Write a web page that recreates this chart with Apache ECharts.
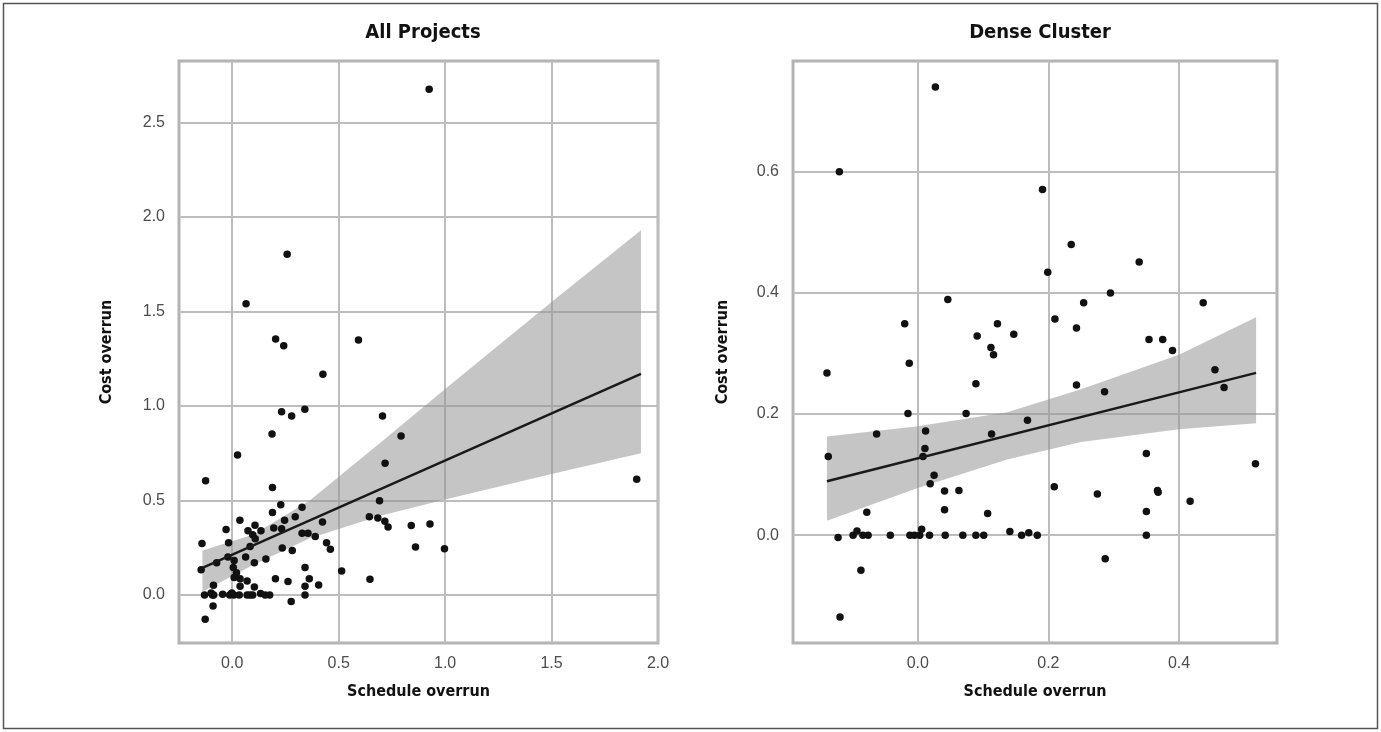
<!DOCTYPE html>
<html>
<head>
<meta charset="utf-8">
<title>Cost overrun vs schedule overrun</title>
<script src="https://cdn.jsdelivr.net/npm/echarts@6/dist/echarts.min.js"></script>
<style>
  html, body { margin: 0; padding: 0; background: #fff; }
  #chart { width: 1381px; height: 732px; }
</style>
</head>
<body>
<div id="chart"></div>
<script>
// ---- All Projects (schedule overrun, cost overrun) ----
var allProjects = [
  [0.925, 2.676], [0.258, 1.803], [0.065, 1.541], [0.204, 1.354], [0.242, 1.319],
  [0.593, 1.349], [0.426, 1.168], [1.90, 0.612],
  [0.232, 0.970], [0.279, 0.947], [0.341, 0.982], [0.706, 0.947], [0.793, 0.841],
  [0.187, 0.852], [0.025, 0.741], [0.718, 0.697], [-0.125, 0.605], [0.189, 0.568],
  [0.692, 0.499], [0.228, 0.478], [0.328, 0.464], [0.189, 0.436], [0.036, 0.395],
  [0.246, 0.395], [0.296, 0.414], [0.644, 0.414], [0.684, 0.407], [0.717, 0.390],
  [0.732, 0.360], [0.841, 0.367], [0.929, 0.376], [0.424, 0.386], [-0.029, 0.346],
  [0.107, 0.369], [0.074, 0.340], [0.135, 0.340], [0.195, 0.354], [0.232, 0.351],
  [0.096, 0.319], [0.108, 0.298], [0.328, 0.326], [0.356, 0.326], [0.390, 0.309],
  [0.443, 0.277], [0.461, 0.242], [-0.142, 0.273], [-0.017, 0.277], [0.084, 0.257],
  [0.235, 0.249], [0.282, 0.235], [0.861, 0.254], [0.997, 0.245], [-0.073, 0.171],
  [-0.020, 0.201], [0.009, 0.182], [0.063, 0.201], [0.104, 0.171], [0.158, 0.190],
  [-0.146, 0.134], [0.005, 0.146], [0.020, 0.118], [0.009, 0.093], [0.037, 0.086],
  [0.070, 0.074], [0.037, 0.046], [0.104, 0.042], [-0.088, 0.051], [0.203, 0.086],
  [0.262, 0.071], [0.342, 0.145], [0.362, 0.086], [0.342, 0.046], [0.406, 0.053],
  [0.514, 0.127], [0.647, 0.083],
  [-0.130, 0.000], [-0.099, 0.010], [-0.093, 0.000], [-0.087, 0.000], [-0.045, 0.004],
  [-0.012, 0.000], [-0.002, 0.010], [0.008, 0.000], [0.033, 0.000], [0.070, 0.000],
  [0.084, 0.000], [0.096, 0.000], [0.133, 0.008], [0.155, 0.000], [0.176, 0.000],
  [0.342, 0.000],
  [-0.090, -0.058], [-0.127, -0.129], [0.277, -0.034]
];
var allFitLine = [[-0.14, 0.144], [1.92, 1.17]];
var allBandX    = [-0.14, 0.10, 0.364, 0.70, 1.00, 1.50, 1.92];
var allBandLow  = [0.017, 0.16, 0.30, 0.42, 0.505, 0.64, 0.75];
var allBandHigh = [0.235, 0.32, 0.50, 0.81, 1.09, 1.55, 1.93];
var allXTicks = [0, 0.5, 1, 1.5, 2];
var allYTicks = [0, 0.5, 1, 1.5, 2, 2.5];

// ---- Dense Cluster ----
var denseProjects = [
  [0.027, 0.740], [-0.120, 0.600], [0.191, 0.571], [0.235, 0.480], [0.199, 0.434],
  [0.046, 0.389], [0.254, 0.384], [-0.020, 0.349], [0.122, 0.349], [0.210, 0.357],
  [0.243, 0.342], [0.091, 0.329], [0.147, 0.332], [0.112, 0.310], [0.116, 0.298],
  [-0.013, 0.284], [-0.139, 0.268], [0.089, 0.250], [0.243, 0.248], [-0.015, 0.201],
  [0.074, 0.201], [0.168, 0.190], [-0.063, 0.167], [0.012, 0.172], [0.113, 0.167],
  [0.011, 0.143], [-0.137, 0.130], [0.008, 0.130], [0.025, 0.099], [0.019, 0.085],
  [0.209, 0.080], [0.041, 0.073], [0.063, 0.074], [0.041, 0.042], [0.107, 0.036],
  [-0.078, 0.038],
  [-0.122, -0.004], [-0.099, 0.000], [-0.093, 0.007], [-0.084, 0.000], [-0.076, 0.000],
  [-0.042, 0.000], [-0.012, 0.000], [-0.005, 0.000], [0.003, 0.000], [0.006, 0.010],
  [0.018, 0.000], [0.042, 0.000], [0.069, 0.000], [0.089, 0.000], [0.101, 0.000],
  [0.141, 0.006], [0.159, 0.000], [0.170, 0.004], [0.183, 0.000],
  [-0.087, -0.058], [-0.119, -0.135],
  [0.339, 0.451], [0.295, 0.400], [0.437, 0.384], [0.354, 0.323], [0.375, 0.323],
  [0.390, 0.305], [0.455, 0.273], [0.469, 0.244], [0.286, 0.237], [0.350, 0.135],
  [0.517, 0.118], [0.275, 0.068], [0.367, 0.074], [0.368, 0.071], [0.417, 0.056],
  [0.350, 0.039], [0.350, 0.000], [0.287, -0.039]
];
var denseFitLine = [[-0.139, 0.089], [0.518, 0.268]];
var denseBandX    = [-0.139, 0.0, 0.137, 0.25, 0.40, 0.518];
var denseBandLow  = [0.024, 0.078, 0.125, 0.154, 0.175, 0.185];
var denseBandHigh = [0.163, 0.180, 0.203, 0.241, 0.298, 0.360];
var denseXTicks = [0, 0.2, 0.4];
var denseYTicks = [0, 0.2, 0.4, 0.6];

var LABEL_FONT = 'Liberation Sans, Arial, sans-serif';
var NARROW_FONT = "'DejaVu Sans Condensed', 'DejaVu Sans', sans-serif";
var GRID_GRAY = '#bdbdbd';

// condensed bold heading text (stretch keyword goes into the font shorthand)
function headStyle(size) {
  return { fontFamily: NARROW_FONT, fontStyle: 'condensed', fontWeight: 'bold', fontSize: size, color: '#111111' };
}

function tickFmt(ticks) {
  return function (v) {
    for (var i = 0; i < ticks.length; i++) {
      if (Math.abs(ticks[i] - v) < 1e-6) return v.toFixed(1);
    }
    return '';
  };
}

function makeAxis(kind, gridIndex, min, max, ticks, name, nameGap, split) {
  return {
    type: 'value',
    gridIndex: gridIndex,
    min: min,
    max: max,
    splitNumber: split,
    name: name,
    nameLocation: 'middle',
    nameGap: nameGap,
    nameTextStyle: headStyle(16),
    axisLine: { show: false },
    axisTick: { show: true, length: 8, customValues: ticks, lineStyle: { color: GRID_GRAY, width: 2 } },
    axisLabel: {
      customValues: ticks,
      formatter: tickFmt(ticks),
      margin: kind === 'x' ? 13 : 14,
      fontFamily: LABEL_FONT, fontSize: 16, color: '#4d4d4d'
    },
    splitLine: { show: true, lineStyle: { color: GRID_GRAY, width: 2 } }
  };
}

function bandSeries(axisIndex, xs, lo, hi) {
  return {
    type: 'custom',
    xAxisIndex: axisIndex,
    yAxisIndex: axisIndex,
    z: 1,
    silent: true,
    data: xs.map(function (x, i) { return [x, lo[i], hi[i]]; }),
    renderItem: function (params, api) {
      if (params.dataIndex !== 0) return;
      var pts = [];
      for (var i = 0; i < xs.length; i++) pts.push(api.coord([xs[i], hi[i]]));
      for (var j = xs.length - 1; j >= 0; j--) pts.push(api.coord([xs[j], lo[j]]));
      return {
        type: 'polygon',
        shape: { points: pts },
        style: { fill: 'rgba(150,150,150,0.55)', stroke: null }
      };
    }
  };
}

function pointSeries(axisIndex, data) {
  return {
    type: 'scatter',
    xAxisIndex: axisIndex,
    yAxisIndex: axisIndex,
    z: 3,
    symbolSize: 7.5,
    itemStyle: { color: '#111111', opacity: 1 },
    data: data
  };
}

function fitSeries(axisIndex, data) {
  return {
    type: 'line',
    xAxisIndex: axisIndex,
    yAxisIndex: axisIndex,
    z: 4,
    symbol: 'none',
    lineStyle: { color: '#1a1a1a', width: 2.5 },
    data: data
  };
}

var chart = echarts.init(document.getElementById('chart'), null, { renderer: 'canvas' });

var option = {
  backgroundColor: '#ffffff',
  animation: false,
  title: [
    { text: 'All Projects', left: 418, top: 18, textAlign: 'center', textStyle: headStyle(20) },
    { text: 'Dense Cluster', left: 1035, top: 18, textAlign: 'center', textStyle: headStyle(20) }
  ],
  grid: [
    { left: 179, top: 61, width: 479, height: 582, show: true, borderColor: '#b3b3b3', borderWidth: 3, backgroundColor: 'transparent' },
    { left: 793, top: 61, width: 484, height: 582, show: true, borderColor: '#b3b3b3', borderWidth: 3, backgroundColor: 'transparent' }
  ],
  xAxis: [
    makeAxis('x', 0, -0.25, 2.0, allXTicks, 'Schedule overrun', 41, 5),
    makeAxis('x', 1, -0.191, 0.55, denseXTicks, 'Schedule overrun', 41, 4)
  ],
  yAxis: [
    makeAxis('y', 0, -0.254, 2.825, allYTicks, 'Cost overrun', 64, 6),
    makeAxis('y', 1, -0.178, 0.783, denseYTicks, 'Cost overrun', 62, 5)
  ],
  graphic: [{
    type: 'rect',
    silent: true,
    shape: { x: 3.5, y: 3.5, width: 1374, height: 725 },
    style: { fill: null, stroke: '#555555', lineWidth: 1.5 }
  }],
  series: [
    bandSeries(0, allBandX, allBandLow, allBandHigh),
    pointSeries(0, allProjects),
    fitSeries(0, allFitLine),
    bandSeries(1, denseBandX, denseBandLow, denseBandHigh),
    pointSeries(1, denseProjects),
    fitSeries(1, denseFitLine)
  ]
};

chart.setOption(option);
</script>
</body>
</html>
